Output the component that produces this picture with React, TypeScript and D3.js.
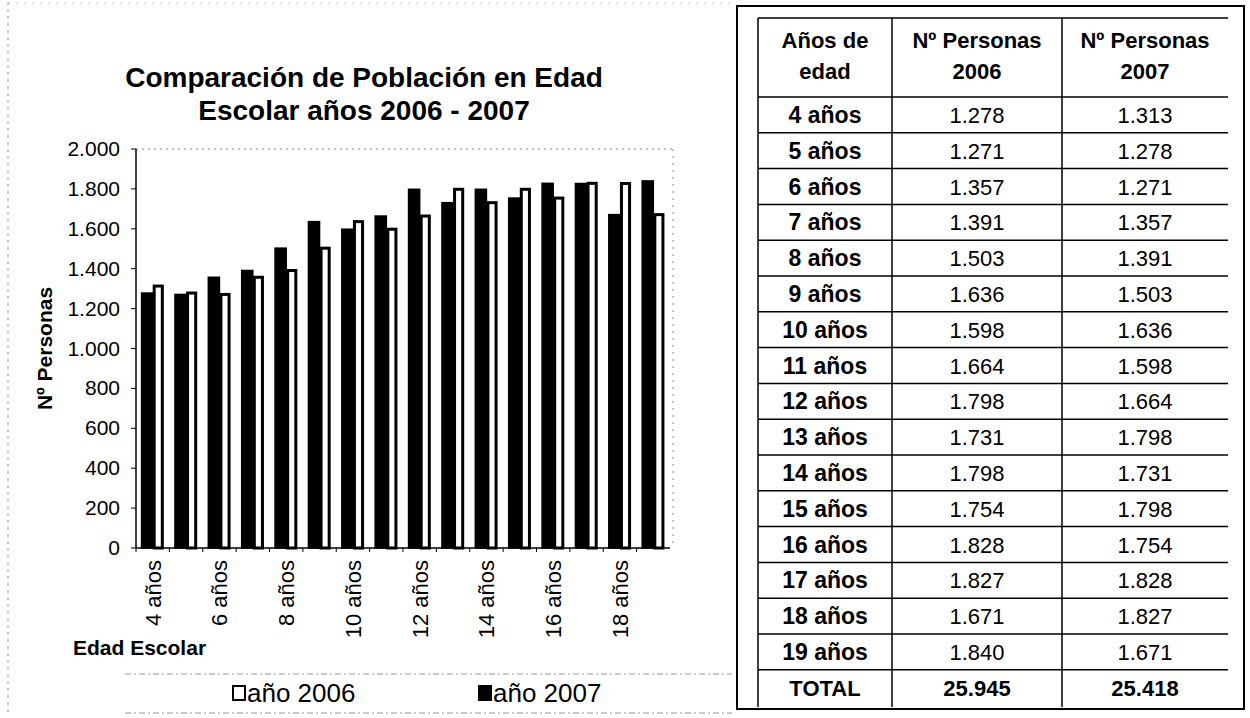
import React from 'react';
import * as d3 from 'd3';

// datos de la tabla
const edades = ['4 años', '5 años', '6 años', '7 años', '8 años', '9 años', '10 años', '11 años',
  '12 años', '13 años', '14 años', '15 años', '16 años', '17 años', '18 años', '19 años'];
const personas2006 = [1278, 1271, 1357, 1391, 1503, 1636, 1598, 1664, 1798, 1731, 1798, 1754, 1828, 1827, 1671, 1840];
const personas2007 = [1313, 1278, 1271, 1357, 1391, 1503, 1636, 1598, 1664, 1798, 1731, 1798, 1754, 1828, 1827, 1671];
const totales = ['25.945', '25.418'];
const yTicks = [0, 200, 400, 600, 800, 1000, 1200, 1400, 1600, 1800, 2000];
const series = ['2006', '2007'];

const FONT = '"Liberation Sans", Arial, Helvetica, sans-serif';
const es = d3.formatLocale({ decimal: ',', thousands: '.', grouping: [3], currency: ['', ''] });
const fmt = es.format(',');

const App: React.FC = () => {
  // area del grafico
  const plot = { left: 136, right: 670, top: 149, bottom: 548 };

  const x = d3.scaleBand<string>().domain(edades).range([plot.left, plot.right]).paddingInner(0);
  const xInner = d3.scaleBand<string>().domain(series).range([0, x.bandwidth()]).paddingOuter(0.5).paddingInner(0);
  const y = d3.scaleLinear().domain([0, 2000]).range([plot.bottom, plot.top]);

  // tabla
  const tbl = { left: 758, top: 18, headBottom: 97, rowH: 35.8, right: 1228, cols: [758, 892, 1062] };
  const rows = [...edades, 'TOTAL'];
  const rowY = (i: number) => tbl.headBottom + tbl.rowH * i;
  const tblBottom = 707;
  const colCenter = [(tbl.cols[0] + tbl.cols[1]) / 2, (tbl.cols[1] + tbl.cols[2]) / 2, (tbl.cols[2] + tbl.right) / 2];

  return (
    <svg width={1250} height={718} style={{ position: 'absolute', left: 0, top: 0, background: '#fff' }}
      fontFamily={FONT}>
      {/* marco del grafico (punteado) */}
      <line x1={8} x2={8} y1={2} y2={716} stroke="#999" strokeDasharray="3,4" strokeWidth={1} />
      <line x1={8} x2={735} y1={3} y2={3} stroke="#bbb" strokeDasharray="2,6" strokeWidth={1} />

      {/* titulo */}
      <text x={364} y={87} textAnchor="middle" fontSize={28} fontWeight="bold">Comparación de Población en Edad</text>
      <text x={364} y={120} textAnchor="middle" fontSize={28} fontWeight="bold">Escolar años 2006 - 2007</text>

      {/* borde del area de trazado */}
      <line x1={plot.left} x2={plot.right + 3} y1={plot.top} y2={plot.top} stroke="#888" strokeDasharray="2,4" />
      <line x1={plot.right + 3} x2={plot.right + 3} y1={plot.top} y2={plot.bottom} stroke="#888" strokeDasharray="2,5" />

      {/* barras */}
      {edades.map((e, i) => (
        <g key={e}>
          <rect x={x(e)! + xInner('2006')!} y={y(personas2006[i])} width={xInner.bandwidth()}
            height={y(0) - y(personas2006[i])} fill="#000" stroke="#000" strokeWidth={1.5} />
          <rect x={x(e)! + xInner('2007')! + 1.5} y={y(personas2007[i])} width={xInner.bandwidth() - 3}
            height={y(0) - y(personas2007[i])} fill="#fff" stroke="#000" strokeWidth={3} />
        </g>
      ))}

      {/* eje Y */}
      <line x1={plot.left} x2={plot.left} y1={plot.top} y2={plot.bottom} stroke="#000" strokeWidth={1.5} />
      {yTicks.map(t => (
        <g key={t}>
          <line x1={plot.left - 5} x2={plot.left} y1={y(t)} y2={y(t)} stroke="#000" />
          <text x={120} y={y(t) + 7} textAnchor="end" fontSize={21}>{fmt(t)}</text>
        </g>
      ))}
      <text transform={`translate(52,${(plot.top + plot.bottom) / 2}) rotate(-90)`} textAnchor="middle"
        fontSize={21} fontWeight="bold">Nº Personas</text>

      {/* eje X */}
      <line x1={plot.left} x2={plot.right} y1={plot.bottom} y2={plot.bottom} stroke="#000" strokeWidth={1.5} />
      {edades.map((e) => (
        <line key={e} x1={x(e)!} x2={x(e)!} y1={plot.bottom} y2={plot.bottom + 4} stroke="#000" />
      ))}
      {edades.map((e, i) => i % 2 === 0 ? (
        <text key={e} transform={`translate(${x(e)! + x.bandwidth() / 2 + 8},${plot.bottom + 12}) rotate(-90)`}
          textAnchor="end" fontSize={22}>{e}</text>
      ) : null)}
      <text x={73} y={655} fontSize={21} fontWeight="bold">Edad Escolar</text>

      {/* leyenda */}
      <line x1={125} x2={732} y1={674} y2={674} stroke="#999" strokeDasharray="6,3,2,3" />
      <line x1={125} x2={732} y1={713} y2={713} stroke="#999" strokeDasharray="6,3,2,3" />
      <rect x={233} y={686} width={12} height={14} fill="#fff" stroke="#000" strokeWidth={2} />
      <text x={247} y={702} fontSize={26}>año 2006</text>
      <rect x={479} y={686} width={12} height={14} fill="#000" stroke="#000" strokeWidth={2} />
      <text x={493} y={702} fontSize={26}>año 2007</text>

      {/* tabla */}
      <rect x={737} y={6} width={507} height={703} fill="none" stroke="#000" strokeWidth={2} />
      <line x1={tbl.left} x2={tbl.right} y1={tbl.top} y2={tbl.top} stroke="#000" strokeWidth={1.5} />
      {rows.map((r, i) => (
        <line key={r} x1={tbl.left} x2={tbl.right} y1={rowY(i)} y2={rowY(i)} stroke="#000" strokeWidth={1.5} />
      ))}
      {tbl.cols.map(c => (
        <line key={c} x1={c} x2={c} y1={tbl.top} y2={tblBottom} stroke="#000" strokeWidth={1.5} />
      ))}
      {/* cabecera */}
      <g fontSize={22} fontWeight="bold" textAnchor="middle">
        <text x={colCenter[0]} y={48}>Años de</text>
        <text x={colCenter[0]} y={79}>edad</text>
        <text x={colCenter[1]} y={48}>Nº Personas</text>
        <text x={colCenter[1]} y={79}>2006</text>
        <text x={colCenter[2]} y={48}>Nº Personas</text>
        <text x={colCenter[2]} y={79}>2007</text>
      </g>
      {edades.map((e, i) => (
        <g key={e} fontSize={22} textAnchor="middle">
          <text x={colCenter[0]} y={rowY(i) + tbl.rowH / 2 + 8} fontWeight="bold" fontSize={23}>{e}</text>
          <text x={colCenter[1]} y={rowY(i) + tbl.rowH / 2 + 8}>{fmt(personas2006[i])}</text>
          <text x={colCenter[2]} y={rowY(i) + tbl.rowH / 2 + 8}>{fmt(personas2007[i])}</text>
        </g>
      ))}
      <g fontSize={22} textAnchor="middle" fontWeight="bold">
        <text x={colCenter[0]} y={rowY(16) + tbl.rowH / 2 + 8}>TOTAL</text>
        <text x={colCenter[1]} y={rowY(16) + tbl.rowH / 2 + 8}>{totales[0]}</text>
        <text x={colCenter[2]} y={rowY(16) + tbl.rowH / 2 + 8}>{totales[1]}</text>
      </g>
    </svg>
  );
};

export default App;
